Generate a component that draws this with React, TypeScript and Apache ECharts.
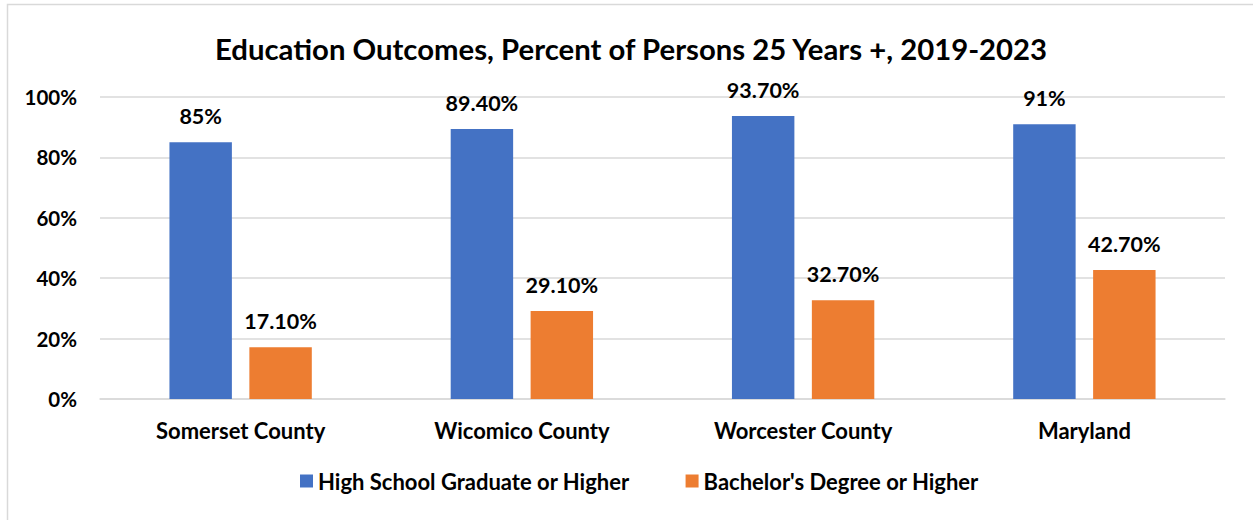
import React, { useEffect, useRef } from "react";
import * as echarts from "echarts";

const categories = ["Somerset County", "Wicomico County", "Worcester County", "Maryland"];
const highSchool = [85, 89.4, 93.7, 91];
const highSchoolLabels = ["85%", "89.40%", "93.70%", "91%"];
const bachelor = [17.1, 29.1, 32.7, 42.7];
const bachelorLabels = ["17.10%", "29.10%", "32.70%", "42.70%"];
const seriesNames = ["High School Graduate or Higher", "Bachelor's Degree or Higher"];
const titleText = "Education Outcomes, Percent of Persons 25 Years +, 2019-2023";

const FONT = "Lato, 'Noto Sans', sans-serif";

export default function App() {
  const ref = useRef<HTMLDivElement>(null);
  useEffect(() => {
    if (!ref.current) return;
    const chart = echarts.init(ref.current, null, { renderer: "svg" });
    const labelStyle = {
      show: true,
      position: "top" as const,
      distance: 15,
      fontFamily: FONT,
      fontWeight: "bold" as const,
      fontSize: 21.5,
      color: "#000",
    };
    chart.setOption({
      animation: false,
      backgroundColor: "#fff",
      title: {
        text: titleText,
        left: 210,
        top: 29,
        textStyle: { fontFamily: FONT, fontWeight: "bold", fontSize: 29.3, color: "#000" },
      },
      graphic: [
        {
          type: "rect",
          shape: { x: 7.5, y: 4.5, width: 1270, height: 540 },
          style: { fill: "none", stroke: "#d9d9d9", lineWidth: 1.5 },
          silent: true,
        },
      ],
      legend: {
        bottom: 23,
        left: 295,
        itemWidth: 13,
        itemHeight: 13,
        itemGap: 56,
        icon: "rect",
        textStyle: { fontFamily: FONT, fontWeight: "bold", fontSize: 22, color: "#000" },
        data: seriesNames,
      },
      grid: { left: 100, right: 28, top: 97, bottom: 121, containLabel: false },
      xAxis: {
        type: "category",
        data: categories,
        axisLine: { show: true, lineStyle: { color: "#d9d9d9", width: 1.5 } },
        axisTick: { show: false },
        axisLabel: { margin: 20, fontFamily: FONT, fontWeight: "bold", fontSize: 22, color: "#000" },
      },
      yAxis: {
        type: "value",
        min: 0,
        max: 100,
        interval: 20,
        axisLine: { show: false },
        axisTick: { show: false },
        splitLine: { lineStyle: { color: "#d9d9d9", width: 1.5 } },
        axisLabel: {
          margin: 23,
          formatter: "{value}%",
          fontFamily: FONT,
          fontWeight: "bold",
          fontSize: 20.5,
          color: "#000",
        },
      },
      series: [
        {
          name: seriesNames[0],
          type: "bar",
          data: highSchool,
          barWidth: "22.2%",
          barGap: "28%",
          itemStyle: { color: "#4472C4" },
          label: { ...labelStyle, formatter: (p: any) => highSchoolLabels[p.dataIndex] },
        },
        {
          name: seriesNames[1],
          type: "bar",
          data: bachelor,
          barWidth: "22.2%",
          itemStyle: { color: "#ED7D31" },
          label: { ...labelStyle, formatter: (p: any) => bachelorLabels[p.dataIndex] },
        },
      ],
    });
    return () => chart.dispose();
  }, []);
  return (
    <div
      ref={ref}
      style={{ position: "fixed", left: 0, top: 0, width: 1253, height: 520 }}
    />
  );
}
